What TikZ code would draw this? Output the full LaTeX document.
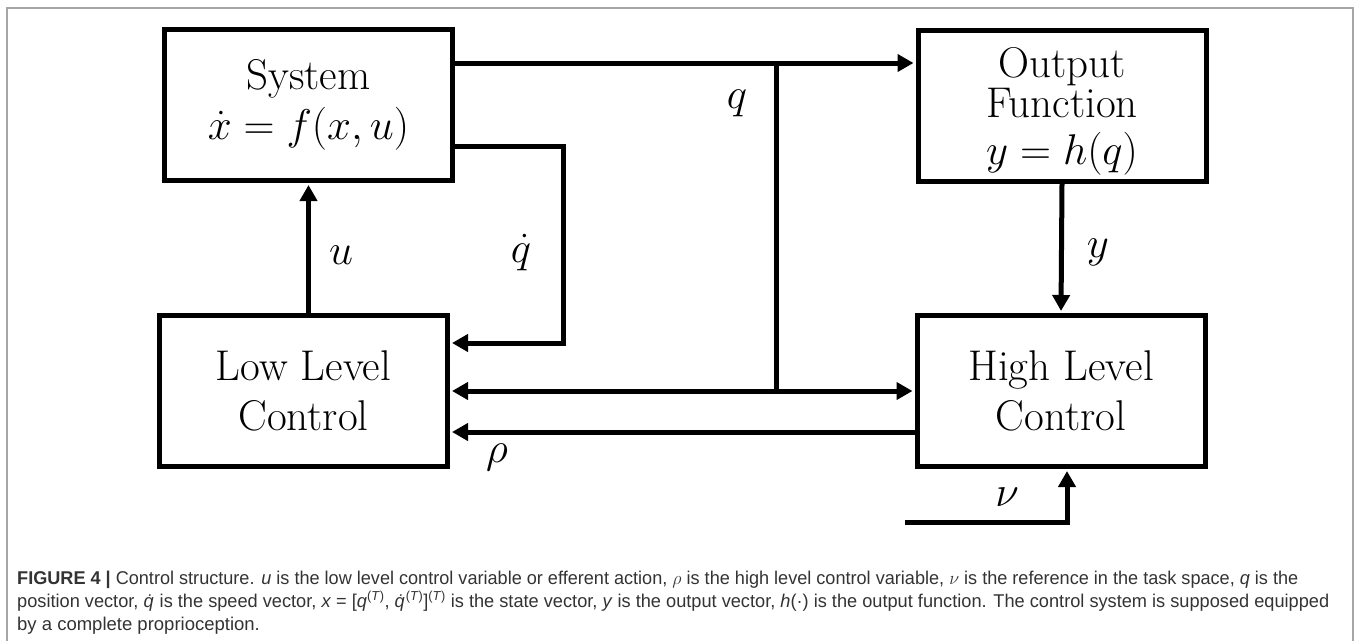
\documentclass[tikz,border=0pt]{standalone}
\usepackage{fix-cm}
\usepackage{fontspec}
\usepackage{graphicx}
\usetikzlibrary{arrows.meta,calc}
\newfontfamily\capfont{Liberation Sans}
\newcommand\bigtext{\fontsize{43}{50}\selectfont}
\newcommand\captext{\capfont\fontsize{18.5}{22}\selectfont}
\tikzset{
  blockbox/.style={draw, line width=5pt, minimum width=288pt, minimum height=151pt,
    inner sep=0pt, align=center, font=\bigtext},
  wire/.style={line width=5pt},
  sig/.style={wire, -{Triangle[length=16pt,width=17pt]}, shorten >=2pt},
  dsig/.style={wire, {Triangle[length=16pt,width=17pt]}-{Triangle[length=16pt,width=17pt]},
    shorten >=2pt, shorten <=2pt},
  lab/.style={font=\bigtext, inner sep=0pt},
  capline/.style={anchor=base west, inner sep=0pt, font=\captext, text=black!80},
}
\begin{document}
\begin{tikzpicture}[x=1pt,y=-1pt]
\useasboundingbox (0,0) rectangle (1360,641);
% outer frame (open at the bottom)
\draw[gray!70, line width=1.5pt] (7,641) -- (7,8) -- (1353,8) -- (1353,641);

% blocks
\node[blockbox] (sys) at (308.5,105) {System\\ $\dot{x}=f(x,u)$};
\node[blockbox, font=\fontsize{43}{45}\selectfont] (out) at (1062,106)
  {\raisebox{-6pt}[\height][\depth]{\begin{tabular}{@{}c@{}}Output\\[-5pt] Function\\[1pt] $y=h(q)$\end{tabular}}};
\node[blockbox] (low) at (303.5,391) {Low Level\\ Control};
\node[blockbox] (high) at (1061,391) {High Level\\ Control};

% signal levels and columns
\coordinate (lq) at (0,63);
\coordinate (lqd) at (0,146);
\coordinate (lqin) at (0,343);
\coordinate (lmid) at (0,391);
\coordinate (lrho) at (0,432);
\coordinate (xqd) at (563,0);
\coordinate (xq) at (776,0);
\coordinate (xnu) at (1067,0);
\coordinate (nustart) at (905,522);

% connectors
\draw[sig] (low.north -| sys.south) -- (sys.south);
\draw[sig] (sys.east |- lq) -- (out.west |- lq);
\draw[wire] (xq |- lq) -- (xq |- lmid);
\draw[dsig] (low.east |- lmid) -- (high.west |- lmid);
\draw[sig] (sys.east |- lqd) -| (xqd |- lqin) -- (low.east |- lqin);
\draw[sig] (high.west |- lrho) -- (low.east |- lrho);
\draw[sig] (out.south) -- (high.north);
\draw[sig] (nustart) -| (xnu |- high.south);

% signal names
\node[lab] (lu) at (341,255) {$u$};
\node[lab] (lqdot) at (521,253) {$\dot{q}$};
\node[lab] (lqq) at (737,103) {$q$};
\node[lab] (ly) at (1098,252) {$y$};
\node[lab] (lrho) at (497,457) {$\rho$};
\node[lab] (lnu) at (1007,497) {$\nu$};

% caption
\node[capline] (cap1) at (17,584) {\resizebox{1281pt}{\height}{\textbf{FIGURE 4 |} Control structure. \textit{u} is the low level control variable or efferent action, $\rho$ is the high level control variable, $\nu$ is the reference in the task space, \textit{q} is the}};
\node[capline] (cap2) at (17,607) {\resizebox{1312pt}{\height}{position vector, \textit{\.q} is the speed vector, \textit{x} = [\textit{q}\textsuperscript{(\textit{T})}, \textit{\.q}\textsuperscript{(\textit{T})}]\textsuperscript{(\textit{T})} is the state vector, \textit{y} is the output vector, \textit{h}(·) is the output function. The control system is supposed equipped}};
\node[capline] (cap3) at (17,630) {by a complete proprioception.};
\end{tikzpicture}
\end{document}
